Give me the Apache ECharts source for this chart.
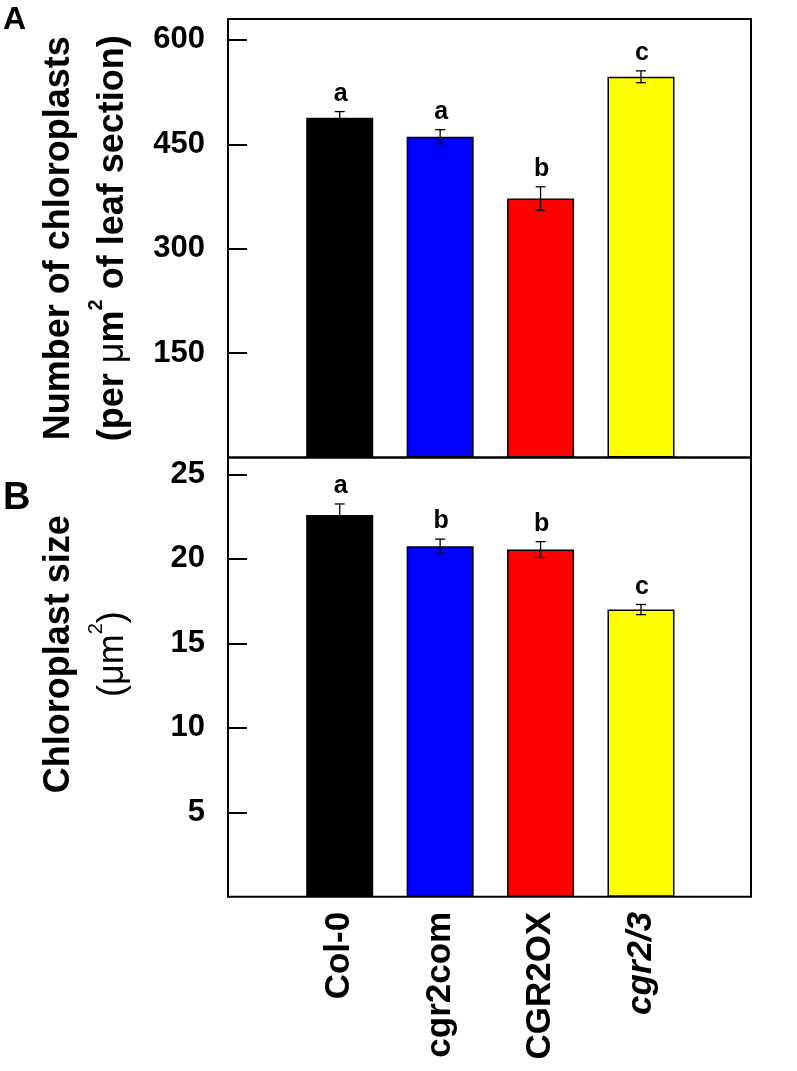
<!DOCTYPE html>
<html><head><meta charset="utf-8">
<script src="https://cdn.jsdelivr.net/npm/echarts@6/dist/echarts.min.js"></script>
<style>html,body{margin:0;padding:0;background:#fff}#c{width:797px;height:1071px}</style>
</head><body><div id="c"></div><script>
// ---- data ----
const categories = ['Col-0', 'cgr2com', 'CGR2OX', 'cgr2/3'];
const barColors = ['#000000', '#0000ff', '#ff0000', '#ffff00'];
const chloroplastNumber = [488, 461, 372, 547];
const chloroplastNumberErr = [9, 10, 17, 8.5];
const chloroplastNumberLetters = ['a', 'a', 'b', 'c'];
const chloroplastSize = [22.6, 20.75, 20.55, 17.0];
const chloroplastSizeErr = [0.65, 0.42, 0.47, 0.3];
const chloroplastSizeLetters = ['a', 'b', 'b', 'c'];
const numberTicks = [150, 300, 450, 600];
const sizeTicks = [5, 10, 15, 20, 25];

const FF = '"Liberation Sans", Arial, Helvetica, sans-serif';
const chart = echarts.init(document.getElementById('c'), null, {renderer: 'canvas'});

function barData(vals) {
  return vals.map((v, i) => ({value: v, itemStyle: {color: barColors[i]}}));
}
function errData(vals, errs) {
  return vals.map((v, i) => [i, v, errs[i]]);
}
function errRender(letters) {
  return function (params, api) {
    const i = params.dataIndex;
    const x = api.value(0), v = api.value(1), e = api.value(2);
    const t = api.coord([x, v + e]);
    const b = api.coord([x, v - e]);
    const hw = 5;
    const st = {stroke: '#000', lineWidth: 1.3};
    return {
      type: 'group',
      children: [
        {type: 'line', shape: {x1: t[0], y1: t[1], x2: b[0], y2: b[1]}, style: st},
        {type: 'line', shape: {x1: t[0] - hw, y1: t[1], x2: t[0] + hw, y2: t[1]}, style: st},
        {type: 'line', shape: {x1: b[0] - hw, y1: b[1], x2: b[0] + hw, y2: b[1]}, style: st},
        {type: 'text', style: {text: letters[i], x: t[0] + 1, y: t[1] - 5, fill: '#000',
          font: 'bold 25px ' + FF, align: 'center', verticalAlign: 'bottom'}}
      ]
    };
  };
}

const tickStyle = {show: true, inside: true, length: 19, lineStyle: {color: '#000', width: 2}};
const labelStyle = {color: '#000', fontSize: 31, fontWeight: 'bold', fontFamily: FF, margin: 23};

const option = {
  animation: false,
  backgroundColor: '#fff',
  title: [
    {text: 'A', left: 3, top: 4, padding: 0, textStyle: {fontSize: 32, fontWeight: 'bold', color: '#000', fontFamily: FF}},
    {text: 'B', left: 3, top: 480, padding: 0, textStyle: {fontSize: 38, fontWeight: 'bold', color: '#000', fontFamily: FF}}
  ],
  grid: [
    {left: 289.5, top: 19, width: 401.7, height: 438.5},
    {left: 289.5, top: 457.5, width: 401.7, height: 439.3},
    {left: 228, top: 19, width: 523, height: 438.5, show: true, borderColor: '#000', borderWidth: 2, backgroundColor: 'transparent'},
    {left: 228, top: 457.5, width: 523, height: 439.3, show: true, borderColor: '#000', borderWidth: 2, backgroundColor: 'transparent'}
  ],
  xAxis: [
    {type: 'category', gridIndex: 0, data: categories, axisLine: {show: false}, axisTick: {show: false}, axisLabel: {show: false}},
    {type: 'category', gridIndex: 1, data: categories, axisLine: {show: false}, axisTick: {show: false},
      axisLabel: {rotate: 90, margin: 15, color: '#000', fontSize: 35, fontWeight: 'bold', fontFamily: FF,
        formatter: v => v === 'cgr2/3' ? '{it|' + v + '}' : v,
        rich: {it: {fontStyle: 'italic', fontWeight: 'bold', fontSize: 35, fontFamily: FF, color: '#000'}}}},
    {type: 'value', gridIndex: 2, show: false},
    {type: 'value', gridIndex: 3, show: false}
  ],
  yAxis: [
    {type: 'value', gridIndex: 0, min: 0, max: 630, offset: 61.5,
      axisLine: {show: false}, splitLine: {show: false},
      axisTick: Object.assign({customValues: numberTicks}, tickStyle),
      axisLabel: Object.assign({customValues: numberTicks}, labelStyle),
      name: '{b|Number of chloroplasts}\n{b|(per }{mu|\u03bc}{b|m}{sup|2}{b| of leaf section)}',
      nameLocation: 'middle', nameRotate: 90, nameGap: 88,
      nameTextStyle: {color: '#000', fontFamily: FF, rich: {
        b: {fontSize: 36, fontWeight: 'bold', lineHeight: 54, fontFamily: FF, color: '#000'},
        mu: {fontSize: 36, fontWeight: 'normal', lineHeight: 54, fontFamily: FF, color: '#000'},
        sup: {fontSize: 20, fontWeight: 'bold', verticalAlign: 'top', lineHeight: 24, fontFamily: FF, color: '#000'}
      }}},
    {type: 'value', gridIndex: 1, min: 0, max: 26, offset: 61.5,
      axisLine: {show: false}, splitLine: {show: false},
      axisTick: Object.assign({customValues: sizeTicks}, tickStyle),
      axisLabel: Object.assign({customValues: sizeTicks}, labelStyle),
      name: '{b|Chloroplast size}\n{n|(}{n|\u03bcm}{sup|2}{n|)}',
      nameLocation: 'middle', nameRotate: 90, nameGap: 88,
      nameTextStyle: {color: '#000', fontFamily: FF, padding: [0, 0, 0, 46], rich: {
        b: {fontSize: 36, fontWeight: 'bold', lineHeight: 54, fontFamily: FF, color: '#000'},
        n: {fontSize: 36, fontWeight: 'normal', lineHeight: 54, fontFamily: FF, color: '#000'},
        sup: {fontSize: 20, fontWeight: 'normal', verticalAlign: 'top', lineHeight: 24, fontFamily: FF, color: '#000'}
      }}},
    {type: 'value', gridIndex: 2, show: false},
    {type: 'value', gridIndex: 3, show: false}
  ],
  series: [
    {type: 'bar', xAxisIndex: 0, yAxisIndex: 0, barWidth: 67, data: barData(chloroplastNumber),
      itemStyle: {borderColor: '#000', borderWidth: 1.5}, z: 2},
    {type: 'custom', xAxisIndex: 0, yAxisIndex: 0, data: errData(chloroplastNumber, chloroplastNumberErr),
      encode: {x: 0, y: 1}, renderItem: errRender(chloroplastNumberLetters), z: 5, clip: false},
    {type: 'bar', xAxisIndex: 1, yAxisIndex: 1, barWidth: 67, data: barData(chloroplastSize),
      itemStyle: {borderColor: '#000', borderWidth: 1.5}, z: 2},
    {type: 'custom', xAxisIndex: 1, yAxisIndex: 1, data: errData(chloroplastSize, chloroplastSizeErr),
      encode: {x: 0, y: 1}, renderItem: errRender(chloroplastSizeLetters), z: 5, clip: false}
  ]
};
chart.setOption(option);
</script></body></html>
